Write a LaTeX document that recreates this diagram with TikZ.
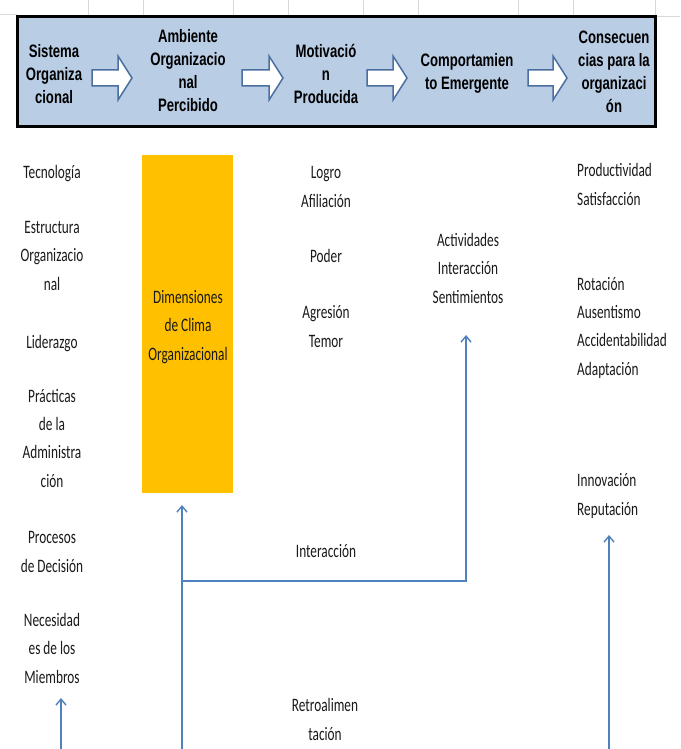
\documentclass[tikz,border=0pt]{standalone}
\usepackage{fontspec}
\usetikzlibrary{arrows.meta}
\newfontfamily\hdrfont[FakeStretch=0.73]{Liberation Sans}
\newfontfamily\bodyfont[FakeStretch=0.7]{Carlito}
\definecolor{hdrfill}{HTML}{B9CDE5}
\definecolor{arrowblue}{HTML}{4F81BD}
\definecolor{blockedge}{HTML}{4A6FA0}
\definecolor{climaorange}{HTML}{FFC000}
\definecolor{gridgray}{HTML}{D9D9D9}
\definecolor{txt}{HTML}{1A1A1A}
\begin{document}
\begin{tikzpicture}[x=1pt,y=-1pt,
  hdr/.style={font=\hdrfont\bfseries\fontsize{18}{23}\selectfont, align=center, anchor=base, inner sep=0pt, text=black},
  body/.style={font=\bodyfont\fontsize{19}{28.3}\selectfont, align=center, anchor=base, inner sep=0pt, text=txt},
  bodyl/.style={body, align=left, anchor=base west},
  conn/.style={draw=arrowblue, line width=1.4pt, -{Straight Barb[length=6pt,width=10pt,line width=1.4pt]}},
  blockarr/.style={draw=blockedge, line width=1.5pt, fill=white, line join=miter},
  gridline/.style={draw=gridgray, line width=1pt}]
\useasboundingbox (0,0) rectangle (680,749);
\fill[white] (0,0) rectangle (680,749);
% spreadsheet grid remnants
\foreach \gx in {88,143,233,288,363,418,518,573,655}
  \draw[gridline] (\gx,0) -- (\gx,16);
\draw[gridline] (0,15) -- (17,15);
\draw[gridline] (655,17) -- (680,17);
% header band
\node[draw=black, fill=hdrfill, line width=3pt, minimum width=638pt, minimum height=110pt, inner sep=0pt] (header) at (336,72) {};
\node[hdr] (h1) at (54,103) {Sistema\\Organiza\\cional};
\node[hdr] (h2) at (188,112) {Ambiente\\Organizacio\\nal\\Percibido};
\node[hdr] (h3) at (326,103) {Motivació\\n\\Producida};
\node[hdr] (h4) at (467,90) {Comportamien\\to Emergente};
\node[hdr] (h5) at (614,113) {Consecuen\\cias para la\\organizaci\\ón};
% block arrows
\foreach \a/\b in {92/132,242/283,367/407,528/567}
  \draw[blockarr] (\a,70) -- ({\b-14},70) -- ({\b-14},56) -- (\b,78) -- ({\b-14},100) -- ({\b-14},86) -- (\a,86) -- cycle;
% left column
\node[body] (tec) at (52,178) {Tecnología};
\node[body] (est) at (52,290) {Estructura\\Organizacio\\nal};
\node[body] (lid) at (52,348) {Liderazgo};
\node[body] (pra) at (52,487) {Prácticas\\de la\\Administra\\ción};
\node[body] (pro) at (52,572) {Procesos\\de Decisión};
\node[body] (nec) at (52,683) {Necesidad\\es de los\\Miembros};
% climate dimensions
\node[fill=climaorange, minimum width=91pt, minimum height=338pt, inner sep=0pt] (clima) at (187.5,324) {};
\node[body] (climatxt) at (188,360) {Dimensiones\\de Clima\\Organizacional};
% motivation column
\node[body] (log) at (326,207) {Logro\\Afiliación};
\node[body] (pod) at (326,262) {Poder};
\node[body] (agr) at (326,347) {Agresión\\Temor};
% behaviour column
\node[body] (act) at (468,303) {Actividades\\Interacción\\Sentimientos};
% consequences column
\node[bodyl] (prod) at (577,205) {Productividad\\Satisfacción};
\node[bodyl] (rot) at (577,375) {Rotación\\Ausentismo\\Accidentabilidad\\Adaptación};
\node[bodyl] (inn) at (577,515) {Innovación\\Reputación};
% connector labels
\node[body] (intlab) at (326,557) {Interacción};
\node[body] (retro) at (325,740) {Retroalimen\\tación};
% connectors
\coordinate (nb) at (61,749);
\coordinate (nt) at (61,698);
\coordinate (cb) at (182,749);
\coordinate (ct) at (182,505);
\coordinate (cj) at (182,581);
\coordinate (cr) at (466,581);
\coordinate (at) at (466,335);
\coordinate (rb) at (609,749);
\coordinate (rt) at (609,535);
\draw[conn] (nb) -- (nt);
\draw[conn] (cb) -- (ct);
\draw[conn] (cj) -- (cr) -- (at);
\draw[conn] (rb) -- (rt);
\end{tikzpicture}
\end{document}
